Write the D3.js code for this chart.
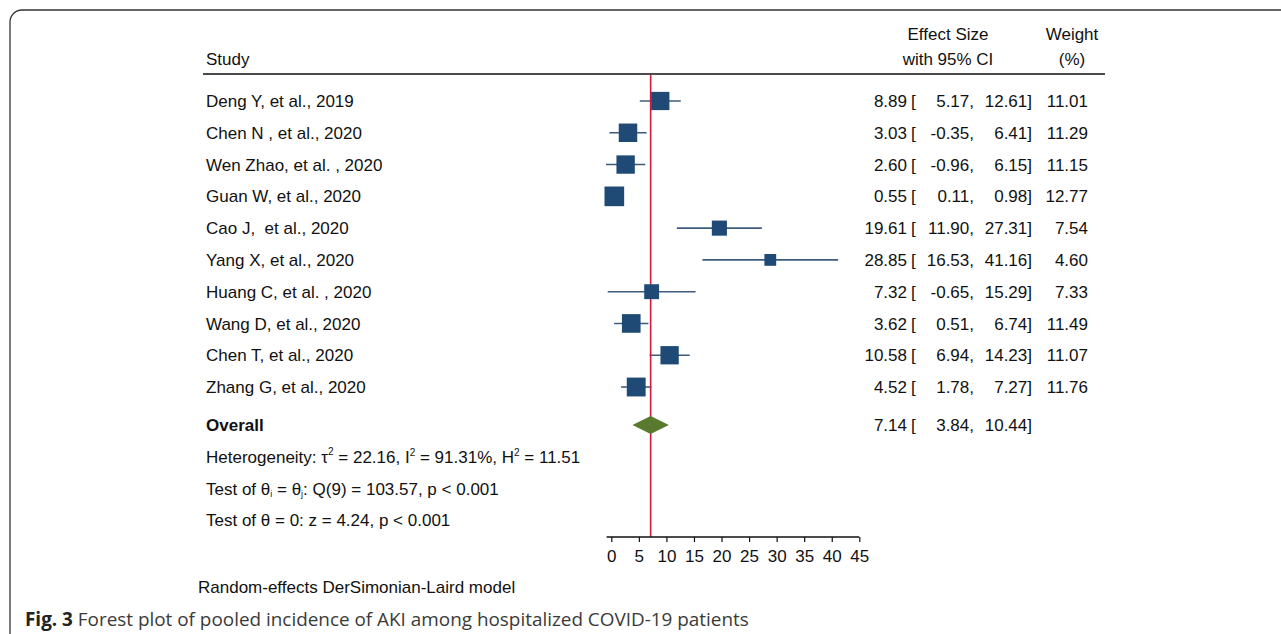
<!DOCTYPE html>
<html>
<head>
<meta charset="utf-8">
<script src="https://cdn.jsdelivr.net/npm/d3@7"></script>
<style>
  html, body { margin: 0; padding: 0; background: #fff; }
  svg text { font-family: "Liberation Sans", Arial, Helvetica, sans-serif; fill: #111; white-space: pre; }
</style>
</head>
<body>
<svg id="chart" width="1281" height="634"></svg>
<script>
// Study-level data: pooled AKI incidence (%) with 95% CI and random-effects weight
const studies = ["Deng Y, et al., 2019", "Chen N , et al., 2020", "Wen Zhao, et al. , 2020",
  "Guan W, et al., 2020", "Cao J,  et al., 2020", "Yang X, et al., 2020",
  "Huang C, et al. , 2020", "Wang D, et al., 2020", "Chen T, et al., 2020", "Zhang G, et al., 2020"];
const effect = [8.89, 3.03, 2.60, 0.55, 19.61, 28.85, 7.32, 3.62, 10.58, 4.52];
const lower  = [5.17, -0.35, -0.96, 0.11, 11.90, 16.53, -0.65, 0.51, 6.94, 1.78];
const upper  = [12.61, 6.41, 6.15, 0.98, 27.31, 41.16, 15.29, 6.74, 14.23, 7.27];
const weight = [11.01, 11.29, 11.15, 12.77, 7.54, 4.60, 7.33, 11.49, 11.07, 11.76];
const overall = { effect: 7.14, lower: 3.84, upper: 10.44 };
const xTicks = [0, 5, 10, 15, 20, 25, 30, 35, 40, 45];

const svg = d3.select("#chart");
const fmt = v => v.toFixed(2); // plain hyphen-minus for negatives

// frame with rounded corner
svg.append("rect").attr("x", 10).attr("y", 10).attr("width", 1400).attr("height", 800)
  .attr("rx", 12).attr("fill", "none").attr("stroke", "#333").attr("stroke-width", 1.3);

// scales
const x = d3.scaleLinear().domain([0, 45]).range([611.3, 859.3]);
const y = d3.scaleLinear().domain([0, 1]).range([101, 132.78]); // row index -> centre
const rowOverall = 10.195;
const side = d3.scaleSqrt().domain([0, 1]).range([0, 5.5]);

const FS = 17;

// header
svg.append("text").attr("x", 206).attr("y", 65).attr("font-size", FS).text("Study");
svg.append("text").attr("x", 948).attr("y", 40).attr("text-anchor", "middle").attr("font-size", FS).text("Effect Size");
svg.append("text").attr("x", 948).attr("y", 65).attr("text-anchor", "middle").attr("font-size", FS).text("with 95% CI");
svg.append("text").attr("x", 1072).attr("y", 40).attr("text-anchor", "middle").attr("font-size", FS).text("Weight");
svg.append("text").attr("x", 1072).attr("y", 65).attr("text-anchor", "middle").attr("font-size", FS).text("(%)");
svg.append("line").attr("x1", 203).attr("x2", 1105).attr("y1", 74).attr("y2", 74)
  .attr("stroke", "#111").attr("stroke-width", 1.5);

// study labels and numeric columns
const rows = svg.append("g").selectAll("g").data(studies).join("g");
rows.append("text").attr("x", 206).attr("y", (d, i) => y(i)).attr("dy", "0.36em").attr("font-size", FS).text(d => d);
rows.append("text").attr("x", 907).attr("y", (d, i) => y(i)).attr("dy", "0.36em").attr("text-anchor", "end")
  .attr("font-size", FS).text((d, i) => fmt(effect[i]));
rows.append("text").attr("x", 911).attr("y", (d, i) => y(i)).attr("dy", "0.36em").attr("font-size", FS).text("[");
rows.append("text").attr("x", 974).attr("y", (d, i) => y(i)).attr("dy", "0.36em").attr("text-anchor", "end")
  .attr("font-size", FS).text((d, i) => fmt(lower[i]) + ",");
rows.append("text").attr("x", 1032).attr("y", (d, i) => y(i)).attr("dy", "0.36em").attr("text-anchor", "end")
  .attr("font-size", FS).text((d, i) => fmt(upper[i]) + "]");
rows.append("text").attr("x", 1088).attr("y", (d, i) => y(i)).attr("dy", "0.36em").attr("text-anchor", "end")
  .attr("font-size", FS).text((d, i) => fmt(weight[i]));

// overall row text
const yo = y(rowOverall);
svg.append("text").attr("x", 206).attr("y", yo).attr("dy", "0.36em").attr("font-size", FS)
  .attr("font-weight", "bold").text("Overall");
svg.append("text").attr("x", 907).attr("y", yo).attr("dy", "0.36em").attr("text-anchor", "end").attr("font-size", FS).text(fmt(overall.effect));
svg.append("text").attr("x", 911).attr("y", yo).attr("dy", "0.36em").attr("font-size", FS).text("[");
svg.append("text").attr("x", 974).attr("y", yo).attr("dy", "0.36em").attr("text-anchor", "end").attr("font-size", FS).text(fmt(overall.lower) + ",");
svg.append("text").attr("x", 1032).attr("y", yo).attr("dy", "0.36em").attr("text-anchor", "end").attr("font-size", FS).text(fmt(overall.upper) + "]");

// heterogeneity statistics
function statLine(row) {
  return svg.append("text").attr("x", 206).attr("y", y(row)).attr("dy", "0.36em").attr("font-size", FS);
}
const h = statLine(rowOverall + 1);
h.append("tspan").text("Heterogeneity: τ");
h.append("tspan").attr("font-size", 10).attr("dy", "-0.75em").text("2");
h.append("tspan").attr("dy", "0.45em").text(" = 22.16, I");
h.append("tspan").attr("font-size", 10).attr("dy", "-0.75em").text("2");
h.append("tspan").attr("dy", "0.45em").text(" = 91.31%, H");
h.append("tspan").attr("font-size", 10).attr("dy", "-0.75em").text("2");
h.append("tspan").attr("dy", "0.45em").text(" = 11.51");

const q = statLine(rowOverall + 2);
q.append("tspan").text("Test of θ");
q.append("tspan").attr("font-size", 9).attr("dy", "0.25em").text("i");
q.append("tspan").attr("dy", "-0.13em").text(" = θ");
q.append("tspan").attr("font-size", 9).attr("dy", "0.25em").text("j");
q.append("tspan").attr("dy", "-0.13em").text(": Q(9) = 103.57, p < 0.001");

statLine(rowOverall + 3).text("Test of θ = 0: z = 4.24, p < 0.001");

// confidence interval lines
svg.append("g").selectAll("line").data(studies).join("line")
  .attr("x1", (d, i) => x(lower[i])).attr("x2", (d, i) => x(upper[i]))
  .attr("y1", (d, i) => y(i)).attr("y2", (d, i) => y(i))
  .attr("stroke", "#3d5c7d").attr("stroke-width", 1.6);

// reference line at the pooled estimate
const axisY = 537;
svg.append("line").attr("x1", x(overall.effect)).attr("x2", x(overall.effect))
  .attr("y1", 75).attr("y2", axisY).attr("stroke", "#d3183f").attr("stroke-width", 1.6);

// weighted squares
svg.append("g").selectAll("rect").data(studies).join("rect")
  .attr("x", (d, i) => x(effect[i]) - side(weight[i]) / 2)
  .attr("y", (d, i) => y(i) - side(weight[i]) / 2)
  .attr("width", (d, i) => side(weight[i]))
  .attr("height", (d, i) => side(weight[i]))
  .attr("fill", "#1f4a75");

// pooled diamond
const dh = 9;
svg.append("path")
  .attr("d", `M${x(overall.lower)},${yo} L${x(overall.effect)},${yo - dh} L${x(overall.upper)},${yo} L${x(overall.effect)},${yo + dh} Z`)
  .attr("fill", "#597a2e");

// x axis
const ax = svg.append("g").attr("transform", `translate(0,${axisY})`);
ax.append("line").attr("x1", x(-0.85)).attr("x2", x(45)).attr("stroke", "#111").attr("stroke-width", 1.3);
ax.call(d3.axisBottom(x).tickValues(xTicks).tickSize(5).tickPadding(8).tickFormat(d3.format("d")))
  .call(g => g.select(".domain").remove())
  .call(g => g.selectAll(".tick line").attr("stroke", "#111").attr("stroke-width", 1.2))
  .call(g => g.selectAll(".tick text").attr("font-size", FS).attr("font-family", "Liberation Sans, Arial, sans-serif").attr("fill", "#111"));

// model note
svg.append("text").attr("x", 198).attr("y", 593).attr("font-size", 17).text("Random-effects DerSimonian-Laird model");

// figure caption
const cap = svg.append("text").attr("x", 25).attr("y", 626).attr("font-size", 18.9)
  .style("font-family", "'Open Sans', 'Noto Sans', sans-serif").style("fill", "#3a3a3a");
cap.append("tspan").attr("font-weight", "bold").style("fill", "#222").text("Fig. 3");
cap.append("tspan").text(" Forest plot of pooled incidence of AKI among hospitalized COVID-19 patients");
</script>
</body>
</html>
